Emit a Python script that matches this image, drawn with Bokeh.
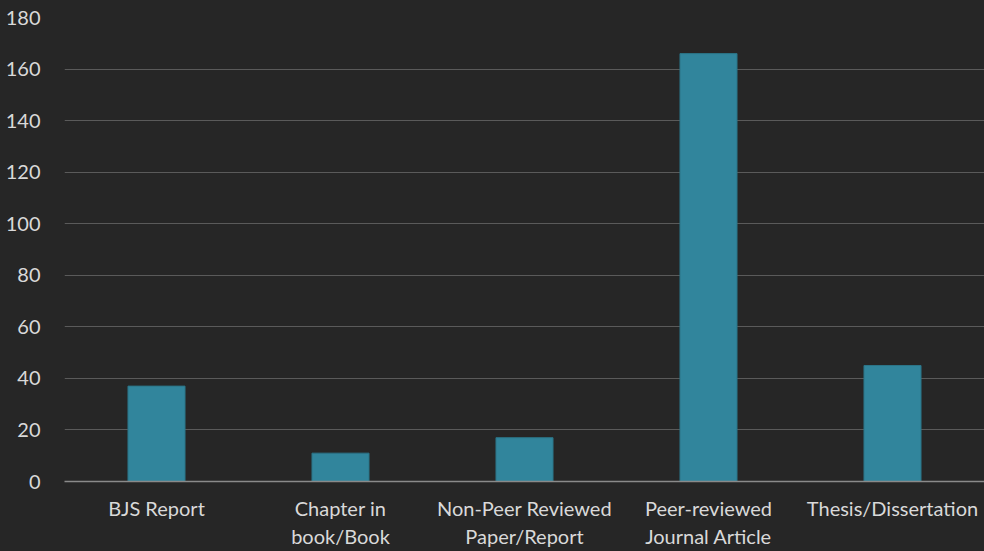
from bokeh.plotting import figure
from bokeh.embed import file_html
from bokeh.resources import INLINE
from bokeh.models import ColumnDataSource, SingleIntervalTicker

categories = ["BJS Report", "Chapter in\nbook/Book", "Non-Peer Reviewed\nPaper/Report",
              "Peer-reviewed\nJournal Article", "Thesis/Dissertation"]
counts = [37, 11, 17, 166, 45]

BG = "#262626"
FONT = "Lato"

src = ColumnDataSource(dict(cat=categories, val=counts))

p = figure(x_range=categories, y_range=(0, 180), width=984, height=551,
           output_backend="svg", toolbar_location=None,
           background_fill_color=None, border_fill_color=None,
           min_border_left=64, min_border_right=0, min_border_top=17, min_border_bottom=69)
p.styles = {"background-color": BG}
p.outline_line_color = None

p.vbar(x="cat", top="val", width=0.31, source=src, fill_color="#31859C",
       line_color="#2b7487", line_width=1)

p.yaxis.ticker = SingleIntervalTicker(interval=20)
p.yaxis.axis_line_color = None
p.yaxis.major_tick_line_color = None
p.yaxis.minor_tick_line_color = None
p.yaxis.major_label_text_color = "#d9d9d9"
p.yaxis.major_label_text_font = FONT
p.yaxis.major_label_text_font_size = "20px"
p.yaxis.major_label_standoff = 18

p.xaxis.axis_line_color = "#8a8a8a"
p.xaxis.axis_line_width = 1.5
p.xaxis.major_tick_line_color = None
p.xaxis.minor_tick_line_color = None
p.xaxis.major_label_text_color = "#d9d9d9"
p.xaxis.major_label_text_font = FONT
p.xaxis.major_label_text_font_size = "20px"
p.xaxis.major_label_standoff = 8

p.xgrid.grid_line_color = None
p.ygrid.grid_line_color = "#5a5a5a"
p.ygrid.grid_line_width = 1.2

open("out.html", "w").write(file_html(p, INLINE))
